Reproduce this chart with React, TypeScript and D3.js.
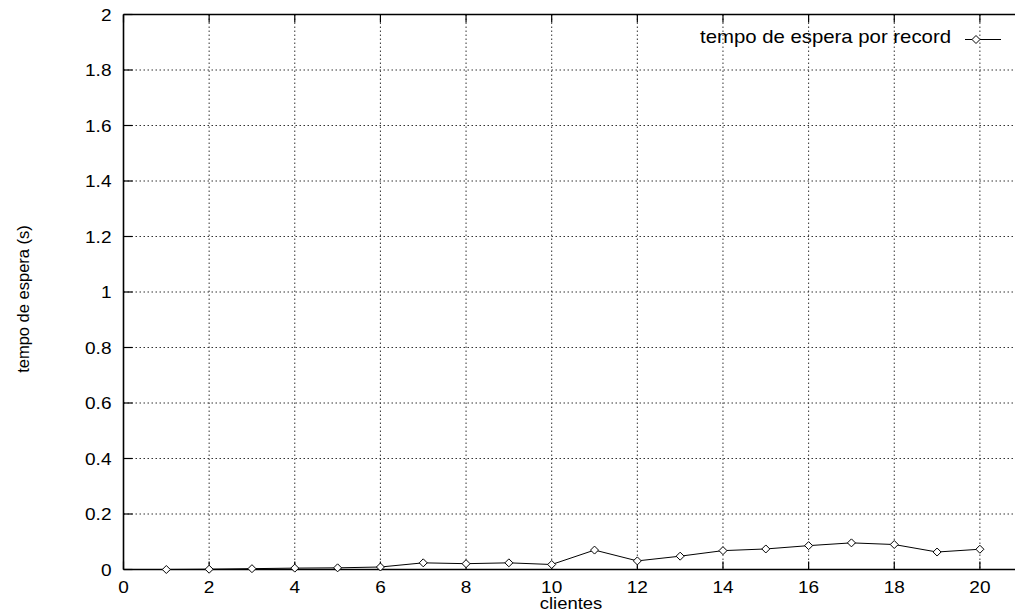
import React from "react";
import * as d3 from "d3";

// clientes (x) and tempo de espera por record em segundos (y)
const clientes = [1, 2, 3, 4, 5, 6, 7, 8, 9, 10, 11, 12, 13, 14, 15, 16, 17, 18, 19, 20];
const tempoEspera = [
  0.0, 0.001, 0.003, 0.005, 0.006, 0.009, 0.024, 0.021, 0.024, 0.018,
  0.07, 0.031, 0.048, 0.068, 0.074, 0.086, 0.096, 0.09, 0.063, 0.073,
];
const xTicks = [0, 2, 4, 6, 8, 10, 12, 14, 16, 18, 20, 22];
const xTickLabels = [0, 2, 4, 6, 8, 10, 12, 14, 16, 18, 20];
const yTicks = [0, 0.2, 0.4, 0.6, 0.8, 1, 1.2, 1.4, 1.6, 1.8, 2];
const legendLabel = "tempo de espera por record";

const W = 1015;
const H = 613;
const FONT = "'Liberation Sans', Arial, Helvetica, sans-serif";
const SX = 1.12; // horizontal widening of the labels

function Diamond({ cx, cy, r = 4 }: { cx: number; cy: number; r?: number }) {
  return (
    <path
      d={`M${cx},${cy - r}L${cx + r},${cy}L${cx},${cy + r}L${cx - r},${cy}Z`}
      fill="white"
      stroke="#000"
      strokeWidth={1}
    />
  );
}

function Label({
  x,
  y,
  anchor,
  size,
  children,
}: {
  x: number;
  y: number;
  anchor: "start" | "middle" | "end";
  size: number;
  children: React.ReactNode;
}) {
  return (
    <text
      transform={`translate(${x},${y}) scale(${SX},1)`}
      textAnchor={anchor}
      fontSize={size}
    >
      {children}
    </text>
  );
}

export default function App() {
  const x = d3.scaleLinear().domain([0, 22]).range([123.5, 123.5 + 22 * 42.82]);
  const y = d3.scaleLinear().domain([0, 2]).range([569.5, 14.5]);
  const left = x(0);
  const right = x(22);
  const top = y(2);
  const bottom = y(0);

  const line = d3
    .line<number>()
    .x((_, i) => x(clientes[i]))
    .y((d) => y(d));

  return (
    <svg
      width={W}
      height={H}
      style={{ position: "absolute", left: 0, top: 0, background: "white", display: "block" }}
      fontFamily={FONT}
    >
      <rect width={W} height={H} fill="white" />
      {/* grid */}
      <g stroke="#333" strokeWidth={1} strokeDasharray="1.5,2.5">
        {xTicks
          .filter((t) => t > 0 && t < 22)
          .map((t) => (
            <line key={"gx" + t} x1={x(t)} x2={x(t)} y1={top} y2={bottom} />
          ))}
        {yTicks
          .filter((t) => t > 0 && t < 2)
          .map((t) => (
            <line key={"gy" + t} x1={left} x2={right} y1={y(t)} y2={y(t)} />
          ))}
      </g>
      {/* tick marks */}
      <g stroke="#000" strokeWidth={1.2}>
        {xTicks.map((t) => (
          <g key={"tx" + t}>
            <line x1={x(t)} x2={x(t)} y1={bottom} y2={bottom - 8} />
            <line x1={x(t)} x2={x(t)} y1={top} y2={top + 8} />
          </g>
        ))}
        {yTicks.map((t) => (
          <line key={"ty" + t} x1={left} x2={left + 9} y1={y(t)} y2={y(t)} />
        ))}
      </g>
      {/* frame */}
      <g stroke="#000" strokeWidth={1.6} fill="none">
        <line x1={left} x2={right} y1={bottom} y2={bottom} />
        <line x1={left} x2={right} y1={top} y2={top} />
        <line x1={left} x2={left} y1={top} y2={bottom} />
      </g>
      {/* tick labels */}
      <g fill="#000">
        {xTickLabels.map((t) => (
          <Label key={"lx" + t} x={x(t)} y={bottom + 23.5} anchor="middle" size={17}>
            {t}
          </Label>
        ))}
        {yTicks.map((t) => (
          <Label key={"ly" + t} x={left - 12} y={y(t) + 6.3} anchor="end" size={17}>
            {d3.format("~g")(t)}
          </Label>
        ))}
      </g>
      {/* axis titles */}
      <Label x={571} y={608.5} anchor="middle" size={16.5}>
        clientes
      </Label>
      <text
        transform={`translate(29,${y(1) + 7}) rotate(-90)`}
        textAnchor="middle"
        fontSize={16.5}
      >
        tempo de espera (s)
      </text>
      {/* series */}
      <path d={line(tempoEspera) || ""} fill="none" stroke="#000" strokeWidth={1} />
      {tempoEspera.map((v, i) => (
        <Diamond key={"p" + i} cx={x(clientes[i])} cy={y(v)} />
      ))}
      {/* legend */}
      <text
        x={700}
        y={42.5}
        fontSize={18.5}
        textLength={251}
        lengthAdjust="spacingAndGlyphs"
      >
        {legendLabel}
      </text>
      <line x1={965} x2={1001} y1={39.5} y2={39.5} stroke="#000" strokeWidth={1} />
      <Diamond cx={976} cy={39.5} />
    </svg>
  );
}
